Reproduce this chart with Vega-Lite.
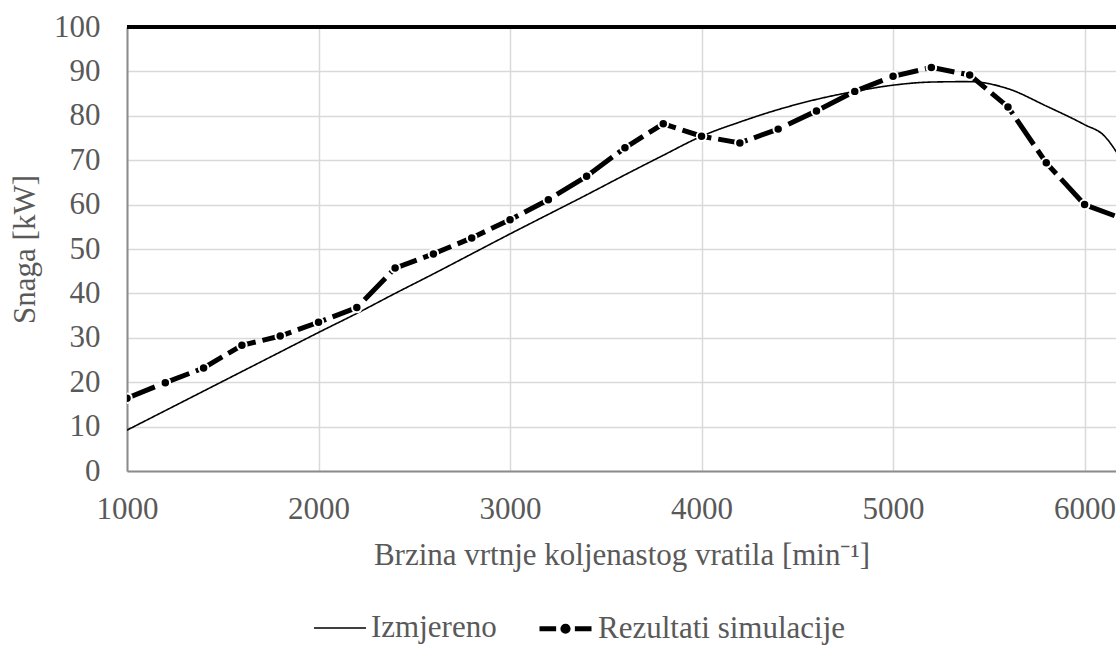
{
  "$schema": "https://vega.github.io/schema/vega-lite/v6.json",
  "width": 989,
  "height": 444,
  "autosize": {"type": "none"},
  "padding": {"left": 127, "top": 27, "right": 0, "bottom": 175},
  "background": "white",
  "config": {
    "view": {"stroke": null},
    "font": "Liberation Serif",
    "axis": {
      "labelFont": "Liberation Serif",
      "titleFont": "Liberation Serif",
      "labelFontSize": 31,
      "titleFontSize": 31,
      "labelColor": "#595959",
      "titleColor": "#595959",
      "titleFontWeight": "normal",
      "ticks": false,
      "gridColor": "#d9d9d9",
      "gridWidth": 1.5,
      "domainColor": "#8c8c8c",
      "domainWidth": 2
    },
    "legend": {
      "labelFont": "Liberation Serif",
      "labelFontSize": 31,
      "labelColor": "#595959",
      "labelLimit": 500
    }
  },
  "data": {
    "values": [
      {"rpm": 1000, "power": 9.2, "series": "Izmjereno"},
      {"rpm": 1200, "power": 13.6, "series": "Izmjereno"},
      {"rpm": 1400, "power": 18.0, "series": "Izmjereno"},
      {"rpm": 1600, "power": 22.4, "series": "Izmjereno"},
      {"rpm": 1800, "power": 26.8, "series": "Izmjereno"},
      {"rpm": 2000, "power": 31.2, "series": "Izmjereno"},
      {"rpm": 2200, "power": 35.5, "series": "Izmjereno"},
      {"rpm": 2400, "power": 40.0, "series": "Izmjereno"},
      {"rpm": 2600, "power": 44.4, "series": "Izmjereno"},
      {"rpm": 2800, "power": 48.9, "series": "Izmjereno"},
      {"rpm": 3000, "power": 53.4, "series": "Izmjereno"},
      {"rpm": 3200, "power": 57.8, "series": "Izmjereno"},
      {"rpm": 3400, "power": 62.2, "series": "Izmjereno"},
      {"rpm": 3600, "power": 66.7, "series": "Izmjereno"},
      {"rpm": 3800, "power": 71.1, "series": "Izmjereno"},
      {"rpm": 4000, "power": 75.4, "series": "Izmjereno"},
      {"rpm": 4200, "power": 78.6, "series": "Izmjereno"},
      {"rpm": 4400, "power": 81.4, "series": "Izmjereno"},
      {"rpm": 4600, "power": 83.7, "series": "Izmjereno"},
      {"rpm": 4800, "power": 85.5, "series": "Izmjereno"},
      {"rpm": 5000, "power": 86.9, "series": "Izmjereno"},
      {"rpm": 5200, "power": 87.6, "series": "Izmjereno"},
      {"rpm": 5400, "power": 87.7, "series": "Izmjereno"},
      {"rpm": 5600, "power": 86.1, "series": "Izmjereno"},
      {"rpm": 5800, "power": 82.2, "series": "Izmjereno"},
      {"rpm": 6000, "power": 78.0, "series": "Izmjereno"},
      {"rpm": 6100, "power": 75.6, "series": "Izmjereno"},
      {"rpm": 6200, "power": 69.5, "series": "Izmjereno"},
      {"rpm": 1000, "power": 16.4, "series": "Rezultati simulacije"},
      {"rpm": 1200, "power": 19.9, "series": "Rezultati simulacije"},
      {"rpm": 1400, "power": 23.2, "series": "Rezultati simulacije"},
      {"rpm": 1600, "power": 28.3, "series": "Rezultati simulacije"},
      {"rpm": 1800, "power": 30.4, "series": "Rezultati simulacije"},
      {"rpm": 2000, "power": 33.5, "series": "Rezultati simulacije"},
      {"rpm": 2200, "power": 36.8, "series": "Rezultati simulacije"},
      {"rpm": 2400, "power": 45.7, "series": "Rezultati simulacije"},
      {"rpm": 2600, "power": 48.9, "series": "Rezultati simulacije"},
      {"rpm": 2800, "power": 52.5, "series": "Rezultati simulacije"},
      {"rpm": 3000, "power": 56.6, "series": "Rezultati simulacije"},
      {"rpm": 3200, "power": 61.1, "series": "Rezultati simulacije"},
      {"rpm": 3400, "power": 66.4, "series": "Rezultati simulacije"},
      {"rpm": 3600, "power": 72.8, "series": "Rezultati simulacije"},
      {"rpm": 3800, "power": 78.2, "series": "Rezultati simulacije"},
      {"rpm": 4000, "power": 75.4, "series": "Rezultati simulacije"},
      {"rpm": 4200, "power": 73.9, "series": "Rezultati simulacije"},
      {"rpm": 4400, "power": 77.0, "series": "Rezultati simulacije"},
      {"rpm": 4600, "power": 81.1, "series": "Rezultati simulacije"},
      {"rpm": 4800, "power": 85.5, "series": "Rezultati simulacije"},
      {"rpm": 5000, "power": 88.9, "series": "Rezultati simulacije"},
      {"rpm": 5200, "power": 90.9, "series": "Rezultati simulacije"},
      {"rpm": 5400, "power": 89.2, "series": "Rezultati simulacije"},
      {"rpm": 5600, "power": 82.0, "series": "Rezultati simulacije"},
      {"rpm": 5800, "power": 69.4, "series": "Rezultati simulacije"},
      {"rpm": 6000, "power": 60.0, "series": "Rezultati simulacije"},
      {"rpm": 6200, "power": 56.8, "series": "Rezultati simulacije"}
    ]
  },
  "encoding": {
    "x": {
      "field": "rpm",
      "type": "quantitative",
      "scale": {"domain": [1000, 6164], "nice": false, "zero": false},
      "axis": {
        "values": [1000, 2000, 3000, 4000, 5000, 6000],
        "format": "d",
        "title": "Brzina vrtnje koljenastog vratila [min⁻¹]",
        "labelPadding": 23,
        "titlePadding": 16,
        "labelFlush": false
      }
    },
    "y": {
      "field": "power",
      "type": "quantitative",
      "scale": {"domain": [0, 100], "nice": false},
      "axis": {
        "values": [0, 10, 20, 30, 40, 50, 60, 70, 80, 90, 100],
        "title": "Snaga [kW]",
        "labelPadding": 27,
        "titlePadding": 12
      }
    }
  },
  "layer": [
    {
      "mark": {"type": "rule", "color": "black", "strokeWidth": 2.5},
      "encoding": {"y": {"datum": 100}, "x": null}
    },
    {
      "transform": [{"filter": "datum.series === 'Izmjereno'"}],
      "mark": {"type": "line", "color": "black", "interpolate": "monotone", "clip": true},
      "encoding": {
        "strokeDash": {
          "field": "series",
          "type": "nominal",
          "scale": {"domain": ["Izmjereno", "Rezultati simulacije"], "range": [[1, 0], [30, 7]]},
          "legend": {
            "title": null,
            "orient": "none",
            "direction": "horizontal",
            "legendX": 186,
            "legendY": 573,
            "padding": 0,
            "labelOffset": 4,
            "columnPadding": 32,
            "symbolSize": 2704,
            "labelBaseline": "middle",
            "labelLimit": 500,
            "encoding": {
              "symbols": {
                "shape": {"condition": {"test": "datum.value === 'Izmjereno'", "value": "M-1,0H1"}, "value": "M-1,0H-0.36M0.36,0H1M-0.1,0A0.1,0.1,0,1,0,0.1,0A0.1,0.1,0,1,0,-0.1,0"},
                "strokeWidth": {"condition": {"test": "datum.value === 'Izmjereno'", "value": 1.6}, "value": 5},
                "strokeDash": {"value": [1, 0]},
                "fill": {"condition": {"test": "datum.value === 'Izmjereno'", "value": "transparent"}, "value": "black"},
                "stroke": {"value": "black"}
              }
            }
          }
        },
        "strokeWidth": {
          "field": "series",
          "type": "nominal",
          "scale": {"domain": ["Izmjereno", "Rezultati simulacije"], "range": [1.6, 5]},
          "legend": null
        }
      }
    },
    {
      "transform": [{"filter": "datum.series === 'Rezultati simulacije'"}],
      "mark": {"type": "line", "color": "black", "clip": true},
      "encoding": {
        "strokeDash": {"field": "series", "type": "nominal", "legend": null},
        "strokeWidth": {"field": "series", "type": "nominal", "legend": null}
      }
    },
    {
      "transform": [{"filter": "datum.series === 'Rezultati simulacije'"}],
      "mark": {"type": "point", "filled": true, "fill": "black", "stroke": "white", "strokeWidth": 2, "size": 90, "opacity": 1, "clip": true},
      "encoding": {}
    }
  ]
}
